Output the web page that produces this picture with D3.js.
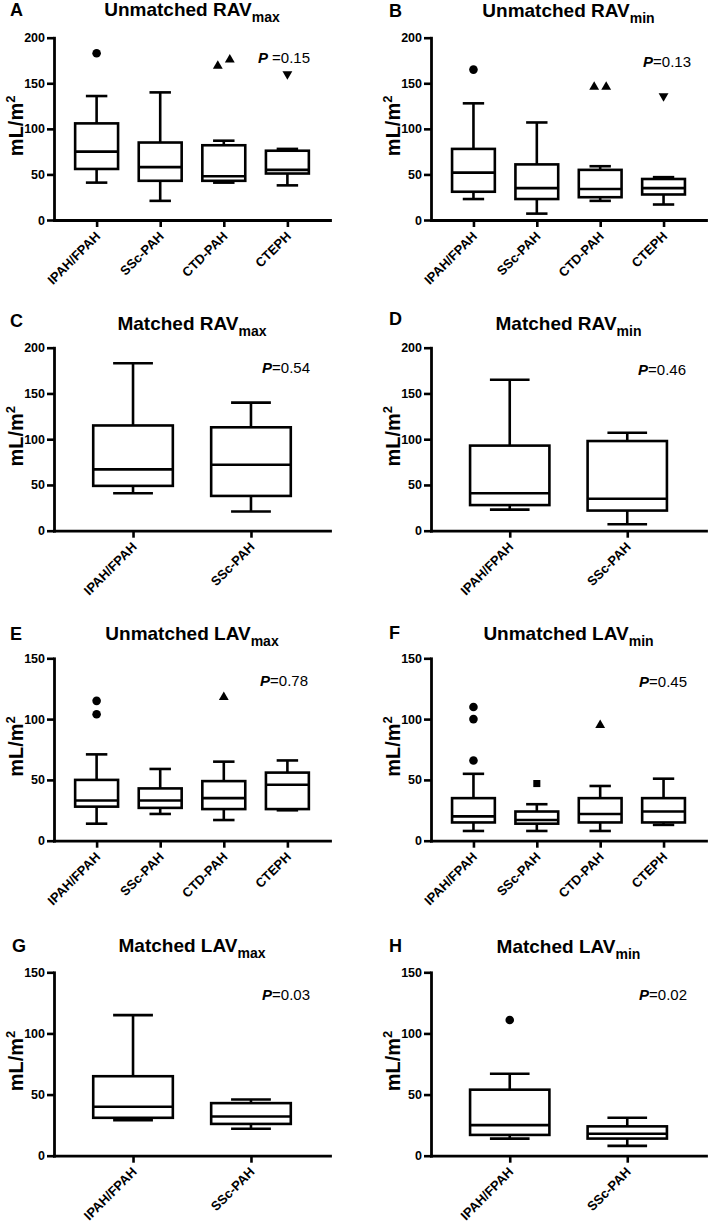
<!DOCTYPE html>
<html><head><meta charset="utf-8">
<script src="https://cdn.jsdelivr.net/npm/d3@7"></script>
<style>
body{margin:0;background:#fff}
svg{display:block}
text{font-family:"Liberation Sans",Arial,Helvetica,sans-serif;fill:#000}
</style>
</head><body>
<div id="chart"></div>
<script>
// ---------- DATA ----------
const groups4 = ["IPAH/FPAH","SSc-PAH","CTD-PAH","CTEPH"];
const groups2 = ["IPAH/FPAH","SSc-PAH"];
const ticksRAV = [0,50,100,150,200];
const ticksLAV = [0,50,100,150];
const yLabelMain = "mL/m";
const yLabelSup = "2";
// each box: [lower whisker, Q1, median, Q3, upper whisker]
const statsA = [[41,56,75,106,136],[21,43,58,85,140],[41,43,48,82,87],[38,51,55,76,78]];
const outliersA = [[183],[],[169,176],[160]];
const statsB = [[23,31,52,78,128],[7,23,35,61,107],[21,25,34,55,59],[17,28,35,45,47]];
const outliersB = [[165],[],[146,146],[136]];
const statsC = [[41,49,67,115,183],[21,38,72,113,140]];
const outliersC = [[],[]];
const statsD = [[23,28,41,93,165],[7,22,35,98,107]];
const outliersD = [[],[]];
const statsE = [[14,28,33,50,71],[22,27,33,43,59],[17,26,35,49,65],[25,26,46,56,66]];
const outliersE = [[115,104],[],[118],[]];
const statsF = [[8,15,20,35,55],[8,14,17,24,30],[8,15,22,35,45],[13,15,24,35,51]];
const outliersF = [[110,100,66],[47],[95],[]];
const statsG = [[29,31,40,65,115],[22,26,32,43,46]];
const outliersG = [[],[]];
const statsH = [[14,17,25,54,67],[8,14,18,24,31]];
const outliersH = [[111],[]];

const panelLetters = ["A","B","C","D","E","F","G","H"];
const titleMain = ["Unmatched RAV","Unmatched RAV","Matched RAV","Matched RAV","Unmatched LAV","Unmatched LAV","Matched LAV","Matched LAV"];
const titleSub = ["max","min","max","min","max","min","max","min"];
const pValues = ["0.15","0.13","0.54","0.46","0.78","0.45","0.03","0.02"];

// ---------- LAYOUT ----------
const W = 709, H = 1225;
const panels = [
  {groups:groups4, stats:statsA, out:outliersA, ticks:ticksRAV},
  {groups:groups4, stats:statsB, out:outliersB, ticks:ticksRAV},
  {groups:groups2, stats:statsC, out:outliersC, ticks:ticksRAV},
  {groups:groups2, stats:statsD, out:outliersD, ticks:ticksRAV},
  {groups:groups4, stats:statsE, out:outliersE, ticks:ticksLAV},
  {groups:groups4, stats:statsF, out:outliersF, ticks:ticksLAV},
  {groups:groups2, stats:statsG, out:outliersG, ticks:ticksLAV},
  {groups:groups2, stats:statsH, out:outliersH, ticks:ticksLAV}
];
const layout = [
  {x0:54, x1:330, yT:37.7,  yB:220,    lx:10,  ly:16,  ty:16,  px:310, py:63,  pGap:4},
  {x0:431,x1:706, yT:37.7,  yB:220,    lx:389, ly:17,  ty:17,  px:691, py:67,  pGap:0},
  {x0:54, x1:330, yT:347.7, yB:530.7,  lx:10,  ly:327, ty:330, px:310, py:373, pGap:0},
  {x0:431,x1:706, yT:347.7, yB:530.7,  lx:389, ly:325, ty:330, px:686, py:375, pGap:0},
  {x0:54, x1:330, yT:658.3, yB:840.7,  lx:10,  ly:640, ty:640, px:308, py:686, pGap:0},
  {x0:431,x1:706, yT:658.3, yB:840.7,  lx:389, ly:639, ty:640, px:687, py:687, pGap:0},
  {x0:54, x1:330, yT:972.3, yB:1155.7, lx:12,  ly:952, ty:952, px:310, py:1000,pGap:0},
  {x0:431,x1:706, yT:972.3, yB:1155.7, lx:389, ly:952, ty:953, px:687, py:1000,pGap:0}
];
const symbolTypes = [d3.symbolCircle, d3.symbolSquare, d3.symbolTriangle, d3.symbolTriangle];
const symbolSizes = [58, 50, 42, 42];
const symbolRot = [0, 0, 0, 180];

const svg = d3.select("#chart").append("svg").attr("width", W).attr("height", H);

panels.forEach((p, i) => {
  const L = layout[i];
  const g = svg.append("g");
  const yMax = p.ticks[p.ticks.length - 1];
  const y = d3.scaleLinear().domain([0, yMax]).range([L.yB, L.yT]);
  const x = d3.scalePoint().domain(p.groups).range([L.x0, L.x1]).padding(0.67);
  const step = x.step();
  const bw = step * 0.675;
  const cap = bw * 0.5;

  // letter
  g.append("text").attr("x", L.lx).attr("y", L.ly)
    .attr("font-size", 18).attr("font-weight", "bold").text(panelLetters[i]);
  // title
  const t = g.append("text").attr("x", (L.x0 + L.x1) / 2).attr("y", L.ty)
    .attr("text-anchor", "middle").attr("font-weight", "bold").attr("font-size", 19);
  t.append("tspan").text(titleMain[i]);
  t.append("tspan").attr("font-size", 14).attr("dy", 6).text(titleSub[i]);

  // y axis
  const ya = g.append("g").attr("transform", `translate(${L.x0},0)`)
    .call(d3.axisLeft(y).tickValues(p.ticks).tickSize(7).tickSizeOuter(0).tickPadding(2));
  // x axis
  const xa = g.append("g").attr("transform", `translate(0,${L.yB})`)
    .call(d3.axisBottom(x).tickSize(7).tickSizeOuter(0));
  [ya, xa].forEach(a => {
    a.select(".domain").attr("stroke", "#000").attr("stroke-width", 2.8).attr("stroke-linecap", "square");
    a.selectAll(".tick line").attr("stroke", "#000").attr("stroke-width", 2.6);
    a.selectAll(".tick text").attr("fill", "#000").attr("font-weight", "bold")
      .attr("font-family", "'Liberation Sans',Arial,sans-serif");
  });
  ya.selectAll(".tick text").attr("font-size", 12.5);
  xa.selectAll(".tick text").attr("font-size", 13)
    .attr("x", null).attr("y", null).attr("dy", null)
    .attr("text-anchor", "end").attr("transform", "translate(4,17) rotate(-45)");

  // y label
  const ylx = L.x0 - 31;
  const yly = (L.yT + L.yB) / 2 - 3;
  const yl = g.append("text").attr("transform", `translate(${ylx},${yly}) rotate(-90)`)
    .attr("text-anchor", "middle").attr("font-weight", "bold").attr("font-size", 20);
  yl.append("tspan").text(yLabelMain);
  yl.append("tspan").attr("font-size", 13).attr("dy", -8).text(yLabelSup);

  // boxes
  p.groups.forEach((grp, k) => {
    const [lo, q1, md, q3, hi] = p.stats[k];
    const cx = x(grp);
    const bg = g.append("g").attr("stroke", "#000").attr("stroke-width", 2.6).attr("fill", "none");
    bg.append("line").attr("x1", cx).attr("x2", cx).attr("y1", y(q3)).attr("y2", y(hi));
    bg.append("line").attr("x1", cx).attr("x2", cx).attr("y1", y(q1)).attr("y2", y(lo));
    bg.append("line").attr("x1", cx - cap / 2).attr("x2", cx + cap / 2).attr("y1", y(hi)).attr("y2", y(hi));
    bg.append("line").attr("x1", cx - cap / 2).attr("x2", cx + cap / 2).attr("y1", y(lo)).attr("y2", y(lo));
    bg.append("rect").attr("x", cx - bw / 2).attr("width", bw)
      .attr("y", y(q3)).attr("height", y(q1) - y(q3)).attr("fill", "#fff");
    bg.append("line").attr("x1", cx - bw / 2).attr("x2", cx + bw / 2).attr("y1", y(md)).attr("y2", y(md));

    // outliers (side by side when overlapping)
    const vals = p.out[k].slice().sort((a, b) => a - b);
    const offs = vals.map(() => 0);
    for (let j = 1; j < vals.length; j++) {
      if (Math.abs(y(vals[j]) - y(vals[j - 1])) < 9) { offs[j - 1] = -6; offs[j] = 6; }
    }
    vals.forEach((v, j) => {
      g.append("path")
        .attr("d", d3.symbol().type(symbolTypes[k]).size(symbolSizes[k])())
        .attr("transform", `translate(${cx + offs[j]},${y(v)}) rotate(${symbolRot[k]})`)
        .attr("fill", "#000");
    });
  });

  // P value
  const pt = g.append("text").attr("x", L.px).attr("y", L.py).attr("text-anchor", "end").attr("font-size", 15);
  pt.append("tspan").attr("font-weight", "bold").attr("font-style", "italic").text("P");
  pt.append("tspan").attr("dx", L.pGap).text("=" + pValues[i]);
});
</script>
</body></html>
